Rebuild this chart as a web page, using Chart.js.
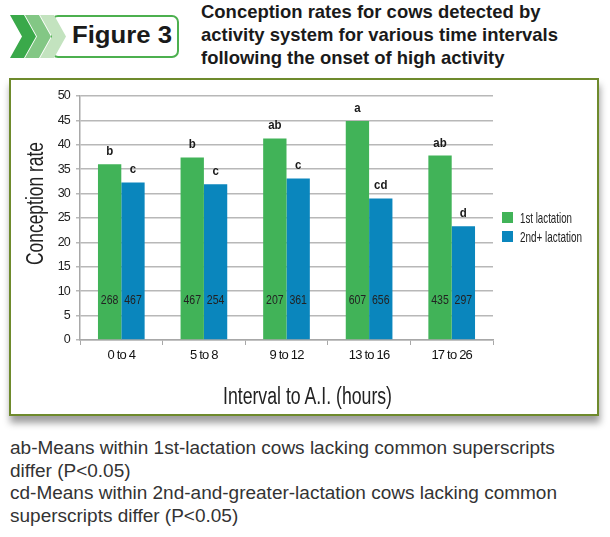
<!DOCTYPE html>
<html>
<head>
<meta charset="utf-8">
<script src="https://cdn.jsdelivr.net/npm/chart.js@4.4.1/dist/chart.umd.min.js"></script>
<style>
  html, body { margin: 0; padding: 0; background: #fff; }
  body { width: 610px; height: 537px; position: relative; overflow: hidden;
         font-family: 'Liberation Sans', Arial, sans-serif; }
  .fit { position: absolute; white-space: nowrap; transform-origin: 0 0; }
  #badge { position: absolute; left: 0; top: 0; }
  #title { left: 201px; top: 0px; font-weight: bold; font-size: 19px; line-height: 23px; color: #1a1a1a; }
  #box {
    position: absolute; left: 9px; top: 78px; width: 586px; height: 334px;
    border: 2px solid #6e8a2c; background: #fff;
    box-shadow: 1px 7px 7px rgba(0,0,0,0.38);
  }
  #chartWrap { position: absolute; left: 11px; top: 80px; width: 586px; height: 334px; }
  #yTitle { font-size: 23px; color: #222; line-height: 26px; }
  #xTitle { left: 223px; top: 383px; font-size: 23px; line-height: 26px; color: #222; }
  .legText { font-size: 15px; line-height: 16px; color: #222; }
  .legBox { position: absolute; left: 502px; width: 11px; height: 11px; }
  #notes { left: 10px; top: 437px; font-size: 17.5px; line-height: 22.5px; color: #333; }
</style>
</head>
<body>
<svg id="badge" width="200" height="70">
  <rect x="52" y="16" width="126" height="41" rx="6" ry="6" fill="#fff" stroke="#4cb04f" stroke-width="2"/>
  <polygon points="40,15 54,15 66,36.5 54,58 40,58 52,36.5" fill="#c3e3bf"/>
  <polygon points="25,15 39,15 51,36.5 39,58 25,58 37,36.5" fill="#83c785"/>
  <polygon points="10,15 24,15 36,36.5 24,58 10,58 22,36.5" fill="#3aa94a"/>
  <text x="72" y="43" textLength="100" lengthAdjust="spacingAndGlyphs" font-family="Liberation Sans, Arial, sans-serif" font-weight="bold" font-size="23" fill="#1a1a1a">Figure 3</text>
</svg>
<div id="title" class="fit">Conception rates for cows detected by<br>activity system for various time intervals<br>following the onset of high activity</div>
<div id="box"></div>
<div id="chartWrap"><canvas id="chart" width="586" height="334"></canvas></div>
<div id="yTitle" class="fit">Conception rate</div>
<div id="xTitle" class="fit">Interval to A.I. (hours)</div>
<div id="legend"></div>
<div id="notes" class="fit">ab-Means within 1st-lactation cows lacking common superscripts<br>differ (P&lt;0.05)<br>cd-Means within 2nd-and-greater-lactation cows lacking common<br>superscripts differ (P&lt;0.05)</div>

<script>
const intervals = ['0 to 4', '5 to 8', '9 to 12', '13 to 16', '17 to 26'];
const seriesNames = ['1st lactation', '2nd+ lactation'];
const firstLactation = [36.0, 37.4, 41.3, 44.9, 37.8];
const secondLactation = [32.3, 31.9, 33.1, 29.0, 23.3];
const firstLetters = ['b', 'b', 'ab', 'a', 'ab'];
const secondLetters = ['c', 'c', 'c', 'cd', 'd'];
const firstCounts = [268, 467, 207, 607, 435];
const secondCounts = [467, 254, 361, 656, 297];
const yMin = 0, yMax = 50, yStep = 5;

const FONT = "'Liberation Sans', Arial, sans-serif";
const colors = ['#41b358', '#0a86bd'];
const letters = [firstLetters, secondLetters];
const counts = [firstCounts, secondCounts];

// squeeze/stretch a text block horizontally to the width seen in the figure
function fitWidth(el, w) {
    const r = el.getBoundingClientRect();
    el.style.transform = `scaleX(${w / r.width})`;
}
fitWidth(document.getElementById('title'), 357);
fitWidth(document.getElementById('xTitle'), 169);
fitWidth(document.getElementById('notes'), 547);

// rotated y title, centred at (35, 203)
const yt = document.getElementById('yTitle');
const yr = yt.getBoundingClientRect();
const ys = 123 / yr.width;
yt.style.left = (35 - yr.height / 2) + 'px';
yt.style.top = (203 + 123 / 2) + 'px';
yt.style.transform = `rotate(-90deg) scaleX(${ys})`;

// html legend
const legend = document.getElementById('legend');
const legWidths = [52, 62];
seriesNames.forEach((name, i) => {
    const b = document.createElement('div');
    b.className = 'legBox';
    b.style.top = (212 + i * 19) + 'px';
    b.style.background = colors[i];
    legend.appendChild(b);
    const t = document.createElement('div');
    t.className = 'fit legText';
    t.style.left = '520px';
    t.style.top = (210 + i * 19) + 'px';
    t.textContent = name;
    legend.appendChild(t);
    fitWidth(t, legWidths[i]);
});

function narrowText(ctx, text, x, y, sx) {
    ctx.save();
    ctx.translate(x, y);
    ctx.scale(sx, 1);
    ctx.fillText(text, 0, 0);
    ctx.restore();
}

// condensed look for the axis tick labels
const tightText = {
    id: 'tightText',
    beforeDraw(chart) { chart.ctx.letterSpacing = '-0.8px'; }
};

// letters above bars, sample sizes inside bars
const barLabels = {
    id: 'barLabels',
    afterDatasetsDraw(chart) {
        const ctx = chart.ctx;
        const y0 = chart.scales.y.getPixelForValue(0);
        ctx.save();
        ctx.letterSpacing = '0px';
        ctx.textAlign = 'center';
        chart.data.datasets.forEach((ds, di) => {
            chart.getDatasetMeta(di).data.forEach((bar, i) => {
                ctx.fillStyle = '#1a1a1a';
                ctx.font = 'bold 13.5px ' + FONT;
                ctx.textBaseline = 'bottom';
                narrowText(ctx, letters[di][i], bar.x, bar.y - 6, 0.85);
                ctx.font = '13.5px ' + FONT;
                ctx.textBaseline = 'middle';
                ctx.fillStyle = '#222';
                narrowText(ctx, String(counts[di][i]), bar.x, y0 - 40, 0.78);
            });
        });
        ctx.restore();
    }
};

new Chart(document.getElementById('chart'), {
    type: 'bar',
    data: {
        labels: intervals,
        datasets: [
            { label: seriesNames[0], data: firstLactation, backgroundColor: colors[0] },
            { label: seriesNames[1], data: secondLactation, backgroundColor: colors[1] }
        ]
    },
    options: {
        responsive: false,
        animation: false,
        categoryPercentage: 0.565,
        barPercentage: 1.0,
        layout: { padding: { top: 16, right: 104, left: 0, bottom: 0 } },
        plugins: { legend: { display: false }, tooltip: { enabled: false } },
        scales: {
            x: {
                afterFit: s => { s.height = 74; },
                grid: { drawOnChartArea: false, drawTicks: true, tickLength: 5, color: '#a8a8a8', offset: true },
                border: { color: '#a8a8a8', width: 1.5 },
                ticks: { color: '#111', padding: 3, font: { family: FONT, size: 13 } }
            },
            y: {
                min: yMin, max: yMax,
                afterFit: s => { s.width = 69; },
                grid: { color: '#b8b8b8', lineWidth: 1.5, tickLength: 4 },
                border: { color: '#a8a8a8', width: 1.5 },
                ticks: { stepSize: yStep, color: '#222', padding: 6, font: { family: FONT, size: 12.5 } }
            }
        }
    },
    plugins: [tightText, barLabels]
});
</script>
</body>
</html>
